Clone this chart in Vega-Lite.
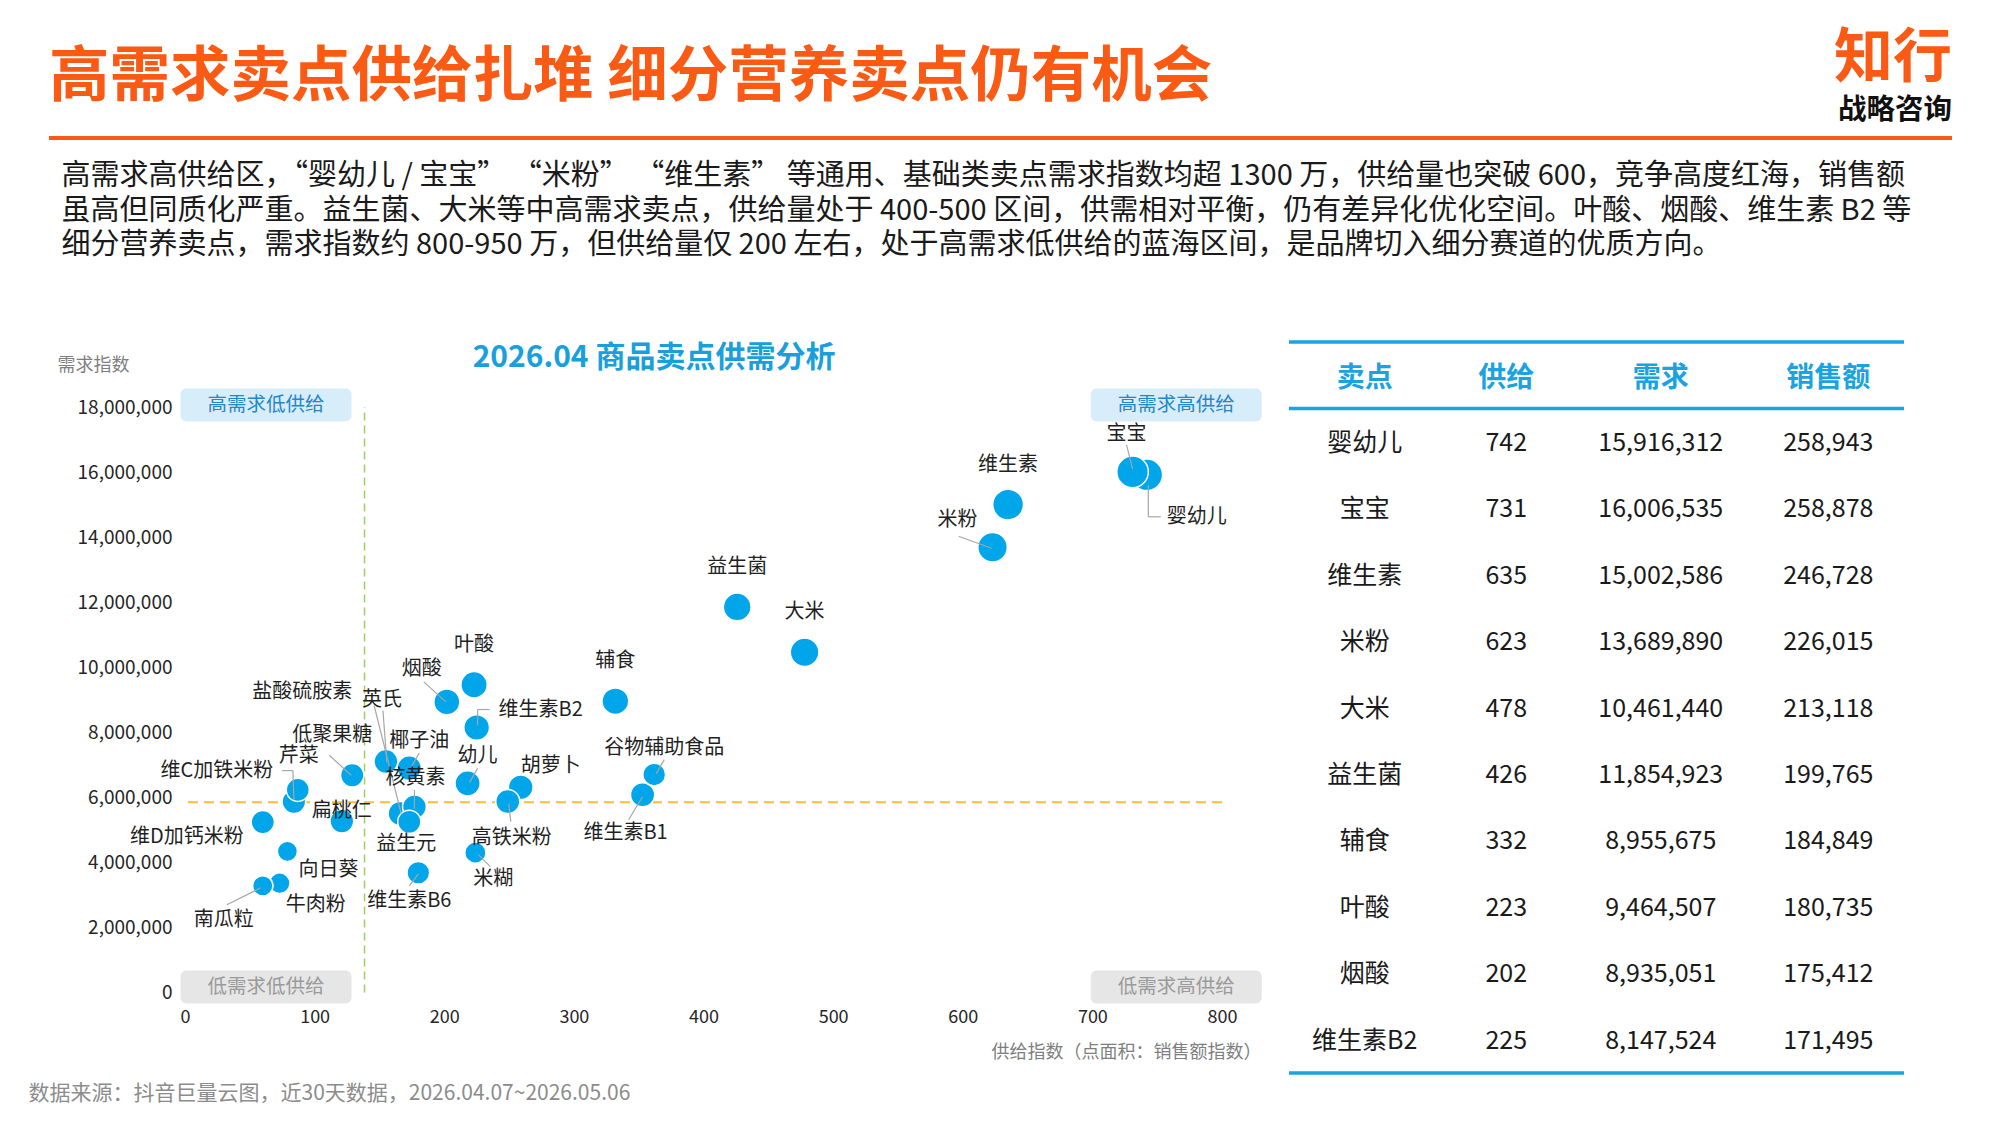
{
  "$schema": "https://vega.github.io/schema/vega-lite/v6.json",
  "background": "#FFFFFF",
  "padding": {"left": 28, "top": 23, "right": 10, "bottom": 14},
  "config": {"font": "Noto Sans CJK SC", "view": {"stroke": null}},
  "datasets": {
    "sp": [
      {"卖点": "婴幼儿", "供给": 742, "需求": 15916312, "销售额": 258943},
      {"卖点": "宝宝", "供给": 731, "需求": 16006535, "销售额": 258878},
      {"卖点": "维生素", "供给": 635, "需求": 15002586, "销售额": 246728},
      {"卖点": "米粉", "供给": 623, "需求": 13689890, "销售额": 226015},
      {"卖点": "大米", "供给": 478, "需求": 10461440, "销售额": 213118},
      {"卖点": "益生菌", "供给": 426, "需求": 11854923, "销售额": 199765},
      {"卖点": "辅食", "供给": 332, "需求": 8955675, "销售额": 184849},
      {"卖点": "叶酸", "供给": 223, "需求": 9464507, "销售额": 180735},
      {"卖点": "烟酸", "供给": 202, "需求": 8935051, "销售额": 175412},
      {"卖点": "维生素B2", "供给": 225, "需求": 8147524, "销售额": 171495},
      {"卖点": "幼儿", "供给": 218, "需求": 6430000, "销售额": 165000},
      {"卖点": "胡萝卜", "供给": 259, "需求": 6310000, "销售额": 158000},
      {"卖点": "椰子油", "供给": 173, "需求": 6900000, "销售额": 155000},
      {"卖点": "维生素B1", "供给": 353, "需求": 6080000, "销售额": 152000},
      {"卖点": "盐酸硫胺素", "供给": 166, "需求": 5500000, "销售额": 151000},
      {"卖点": "高铁米粉", "供给": 249, "需求": 5870000, "销售额": 150000},
      {"卖点": "英氏", "供给": 155, "需求": 7100000, "销售额": 149000},
      {"卖点": "核黄素", "供给": 177, "需求": 5710000, "销售额": 147000},
      {"卖点": "扁桃仁", "供给": 121, "需求": 5270000, "销售额": 146000},
      {"卖点": "维C加铁米粉", "供给": 84, "需求": 5870000, "销售额": 145000},
      {"卖点": "低聚果糖", "供给": 129, "需求": 6680000, "销售额": 141000},
      {"卖点": "维D加钙米粉", "供给": 60, "需求": 5240000, "销售额": 140000},
      {"卖点": "益生元", "供给": 173, "需求": 5250000, "销售额": 139000},
      {"卖点": "芹菜", "供给": 87, "需求": 6230000, "销售额": 138000},
      {"卖点": "谷物辅助食品", "供给": 362, "需求": 6700000, "销售额": 134000},
      {"卖点": "维生素B6", "供给": 180, "需求": 3680000, "销售额": 133000},
      {"卖点": "米糊", "供给": 224, "需求": 4300000, "销售额": 117000},
      {"卖点": "牛肉粉", "供给": 73, "需求": 3360000, "销售额": 112000},
      {"卖点": "南瓜粒", "供给": 60, "需求": 3280000, "销售额": 108000},
      {"卖点": "向日葵", "供给": 79, "需求": 4340000, "销售额": 105000}
    ],
    "quad": [
      {"象限": "高需求低供给", "供给": 62.5, "需求": 18060000},
      {"象限": "高需求高供给", "供给": 764.7, "需求": 18060000},
      {"象限": "低需求低供给", "供给": 62.5, "需求": 166000},
      {"象限": "低需求高供给", "供给": 764.7, "需求": 166000}
    ]
  },
  "bounds": "flush",
  "spacing": 204,
  "vconcat": [
    {
      "width": 1903,
      "height": 115,
      "title": {
        "text": [
          "高需求高供给区，“婴幼儿 / 宝宝” “米粉” “维生素” 等通用、基础类卖点需求指数均超 1300 万，供给量也突破 600，竞争高度红海，销售额",
          "虽高但同质化严重。益生菌、大米等中高需求卖点，供给量处于 400-500 区间，供需相对平衡，仍有差异化优化空间。叶酸、烟酸、维生素 B2 等",
          "细分营养卖点，需求指数约 800-950 万，但供给量仅 200 左右，处于高需求低供给的蓝海区间，是品牌切入细分赛道的优质方向。"
        ],
        "orient": "bottom",
        "anchor": "start",
        "frame": "group",
        "dx": 12.5,
        "offset": 22,
        "fontSize": 29,
        "fontWeight": "normal",
        "color": "#1A1A1A",
        "lineHeight": 34.5
      },
      "layer": [
        {
          "data": {"values": [{}]},
          "mark": {"type": "rule", "color": "#FA5A14", "strokeWidth": 4},
          "encoding": {"y": {"datum": 0, "type": "quantitative", "scale": {"domain": [0, 1]}, "axis": null}}
        },
        {
          "data": {"values": [{"文字": "高需求卖点供给扎堆 细分营养卖点仍有机会"}]},
          "mark": {"type": "text", "align": "left", "baseline": "middle", "fontSize": 60.5, "fontWeight": "bold", "color": "#FA5A14"},
          "encoding": {
            "x": {"datum": 0, "type": "quantitative", "scale": {"domain": [0, 1]}, "axis": null},
            "y": {"datum": 0.522, "type": "quantitative"},
            "text": {"field": "文字"}
          }
        },
        {
          "data": {"values": [{"文字": "知行"}]},
          "mark": {"type": "text", "align": "right", "baseline": "middle", "fontSize": 59, "fontWeight": "bold", "color": "#FA5A14"},
          "encoding": {
            "x": {"datum": 1, "type": "quantitative"},
            "y": {"datum": 0.69, "type": "quantitative"},
            "text": {"field": "文字"}
          }
        },
        {
          "data": {"values": [{"文字": "战略咨询"}]},
          "mark": {"type": "text", "align": "right", "baseline": "middle", "fontSize": 28.5, "fontWeight": "bold", "color": "#111111"},
          "encoding": {
            "x": {"datum": 1, "type": "quantitative"},
            "y": {"datum": 0.245, "type": "quantitative"},
            "text": {"field": "文字"}
          }
        }
      ]
    },
    {
      "bounds": "flush",
      "spacing": 67,
      "title": {
        "text": "数据来源：抖音巨量云图，近30天数据，2026.04.07~2026.05.06",
        "orient": "bottom",
        "anchor": "start",
        "frame": "group",
        "dx": -20.5,
        "offset": 8,
        "fontSize": 21,
        "fontWeight": "normal",
        "color": "#8C8C8C"
      },
      "hconcat": [
        {
          "width": 68.5,
          "height": 1,
          "data": {"values": []},
          "mark": "point",
          "encoding": {}
        },
        {
          "width": 1037,
          "height": 650.5,
          "title": {
            "text": "2026.04 商品卖点供需分析",
            "anchor": "middle",
            "frame": "group",
            "dx": -49.5,
            "offset": -46,
            "baseline": "middle",
            "fontSize": 30,
            "fontWeight": "bold",
            "color": "#18A0DC"
          },
          "layer": [
            {
              "data": {"values": [{}]},
              "mark": {"type": "rule", "color": "#F5BE3A", "strokeWidth": 2, "strokeDash": [10, 6]},
              "encoding": {"y": {"datum": 5850000, "type": "quantitative"}}
            },
            {
              "data": {"values": [{}]},
              "mark": {"type": "rule", "color": "#9BD35A", "strokeWidth": 1.5, "strokeDash": [8, 5]},
              "encoding": {
                "x": {"datum": 138.5, "type": "quantitative"},
                "y": {"datum": 0, "type": "quantitative"},
                "y2": {"datum": 18000000}
              }
            },
            {
              "data": {"name": "quad"},
              "mark": {
                "type": "point", "filled": true, "opacity": 1, "size": 29241, "strokeWidth": 0,
                "shape": "M-0.93,-0.193L0.93,-0.193A0.07,0.07,0,0,1,1,-0.123L1,0.123A0.07,0.07,0,0,1,0.93,0.193L-0.93,0.193A0.07,0.07,0,0,1,-1,0.123L-1,-0.123A0.07,0.07,0,0,1,-0.93,-0.193Z"
              },
              "encoding": {
                "x": {"field": "供给", "type": "quantitative"},
                "y": {"field": "需求", "type": "quantitative"},
                "color": {"condition": {"test": "datum['需求'] > 9000000", "value": "#D7EEFA"}, "value": "#E6E6E6"}
              }
            },
            {
              "data": {"name": "quad"},
              "mark": {"type": "text", "fontSize": 19.5},
              "encoding": {
                "x": {"field": "供给", "type": "quantitative"},
                "y": {"field": "需求", "type": "quantitative"},
                "text": {"field": "象限"},
                "color": {"condition": {"test": "datum['需求'] > 9000000", "value": "#2386C8"}, "value": "#9A9A9A"}
              }
            },
            {
              "data": {"name": "sp"},
              "mark": {"type": "circle", "filled": true, "opacity": 1, "fill": "#00A6E9", "stroke": "#FFFFFF", "strokeWidth": 1.5},
              "encoding": {
                "x": {
                  "field": "供给", "type": "quantitative",
                  "scale": {"domain": [0, 800], "nice": false, "zero": false},
                  "axis": {
                    "title": "供给指数（点面积：销售额指数）",
                    "titleX": 1076, "titleY": 59.5, "titleAlign": "right", "titleBaseline": "middle",
                    "titleFontSize": 18, "titleFontWeight": "normal", "titleColor": "#7F7F7F",
                    "values": [0, 100, 200, 300, 400, 500, 600, 700, 800],
                    "labelFontSize": 18, "labelColor": "#262626", "labelPadding": 16, "labelFlush": false,
                    "ticks": false, "domain": false, "grid": false
                  }
                },
                "y": {
                  "field": "需求", "type": "quantitative",
                  "scale": {"domain": [0, 20000000], "nice": false, "zero": false},
                  "axis": {
                    "title": "需求指数",
                    "titleAngle": 0, "titleX": -92, "titleY": 23, "titleAlign": "center", "titleBaseline": "middle",
                    "titleFontSize": 18, "titleFontWeight": "normal", "titleColor": "#7F7F7F",
                    "values": [0, 2000000, 4000000, 6000000, 8000000, 10000000, 12000000, 14000000, 16000000, 18000000],
                    "format": ",d",
                    "labelFontSize": 19, "labelColor": "#262626", "labelPadding": 13, "labelFlush": false,
                    "ticks": false, "domain": false, "grid": false
                  }
                },
                "size": {"field": "销售额", "type": "quantitative", "scale": {"domain": [0, 260000], "range": [0, 1000]}, "legend": null},
                "order": {"field": "销售额", "type": "quantitative", "sort": "descending"}
              }
            },
            {
              "data": {"name": "sp"},
              "transform": [{"filter": {"field": "卖点", "equal": "宝宝"}}],
              "mark": {"type": "rule", "color": "#A6A6A6", "strokeWidth": 1.2, "xOffset": -6, "yOffset": -27, "x2Offset": 0, "y2Offset": -3},
              "encoding": {"x": {"field": "供给", "type": "quantitative"}, "y": {"field": "需求", "type": "quantitative"}, "x2": {"field": "供给"}, "y2": {"field": "需求"}}
            },
            {
              "data": {"name": "sp"},
              "transform": [{"filter": {"field": "卖点", "oneOf": ["谷物辅助食品", "幼儿", "椰子油"]}}],
              "mark": {"type": "rule", "color": "#A6A6A6", "strokeWidth": 1.2, "xOffset": 10, "yOffset": -15, "x2Offset": 2, "y2Offset": -1},
              "encoding": {"x": {"field": "供给", "type": "quantitative"}, "y": {"field": "需求", "type": "quantitative"}, "x2": {"field": "供给"}, "y2": {"field": "需求"}}
            },
            {
              "data": {"name": "sp"},
              "transform": [{"filter": {"field": "卖点", "equal": "核黄素"}}],
              "mark": {"type": "rule", "color": "#A6A6A6", "strokeWidth": 1.2, "xOffset": 0, "yOffset": -17, "x2Offset": 0, "y2Offset": 2},
              "encoding": {"x": {"field": "供给", "type": "quantitative"}, "y": {"field": "需求", "type": "quantitative"}, "x2": {"field": "供给"}, "y2": {"field": "需求"}}
            },
            {
              "data": {"name": "sp"},
              "transform": [{"filter": {"field": "卖点", "oneOf": ["烟酸", "低聚果糖"]}}],
              "mark": {"type": "rule", "color": "#A6A6A6", "strokeWidth": 1.2, "xOffset": -23, "yOffset": -20, "x2Offset": -1, "y2Offset": 0},
              "encoding": {"x": {"field": "供给", "type": "quantitative"}, "y": {"field": "需求", "type": "quantitative"}, "x2": {"field": "供给"}, "y2": {"field": "需求"}}
            },
            {
              "data": {"name": "sp"},
              "transform": [{"filter": {"field": "卖点", "equal": "米粉"}}],
              "mark": {"type": "rule", "color": "#A6A6A6", "strokeWidth": 1.2, "xOffset": -34, "yOffset": -11, "x2Offset": -1, "y2Offset": 1},
              "encoding": {"x": {"field": "供给", "type": "quantitative"}, "y": {"field": "需求", "type": "quantitative"}, "x2": {"field": "供给"}, "y2": {"field": "需求"}}
            },
            {
              "data": {"name": "sp"},
              "transform": [{"filter": {"field": "卖点", "equal": "高铁米粉"}}],
              "mark": {"type": "rule", "color": "#A6A6A6", "strokeWidth": 1.2, "xOffset": 1, "yOffset": 2, "x2Offset": 3, "y2Offset": 20},
              "encoding": {"x": {"field": "供给", "type": "quantitative"}, "y": {"field": "需求", "type": "quantitative"}, "x2": {"field": "供给"}, "y2": {"field": "需求"}}
            },
            {
              "data": {"name": "sp"},
              "transform": [{"filter": {"field": "卖点", "equal": "维生素B6"}}],
              "mark": {"type": "rule", "color": "#A6A6A6", "strokeWidth": 1.2, "xOffset": 0, "yOffset": 1, "x2Offset": -9, "y2Offset": 13},
              "encoding": {"x": {"field": "供给", "type": "quantitative"}, "y": {"field": "需求", "type": "quantitative"}, "x2": {"field": "供给"}, "y2": {"field": "需求"}}
            },
            {
              "data": {"name": "sp"},
              "transform": [{"filter": {"field": "卖点", "equal": "维生素B1"}}],
              "mark": {"type": "rule", "color": "#A6A6A6", "strokeWidth": 1.2, "xOffset": 0, "yOffset": 2, "x2Offset": -14, "y2Offset": 25},
              "encoding": {"x": {"field": "供给", "type": "quantitative"}, "y": {"field": "需求", "type": "quantitative"}, "x2": {"field": "供给"}, "y2": {"field": "需求"}}
            },
            {
              "data": {"name": "sp"},
              "transform": [{"filter": {"field": "卖点", "equal": "米糊"}}],
              "mark": {"type": "rule", "color": "#A6A6A6", "strokeWidth": 1.2, "xOffset": 3, "yOffset": 2, "x2Offset": 15, "y2Offset": 14},
              "encoding": {"x": {"field": "供给", "type": "quantitative"}, "y": {"field": "需求", "type": "quantitative"}, "x2": {"field": "供给"}, "y2": {"field": "需求"}}
            },
            {
              "data": {"name": "sp"},
              "transform": [{"filter": {"field": "卖点", "equal": "英氏"}}],
              "mark": {"type": "rule", "color": "#A6A6A6", "strokeWidth": 1.2, "xOffset": -3, "yOffset": -51, "x2Offset": 1, "y2Offset": 1},
              "encoding": {"x": {"field": "供给", "type": "quantitative"}, "y": {"field": "需求", "type": "quantitative"}, "x2": {"field": "供给"}, "y2": {"field": "需求"}}
            },
            {
              "data": {"name": "sp"},
              "transform": [{"filter": {"field": "卖点", "equal": "盐酸硫胺素"}}],
              "mark": {"type": "rule", "color": "#A6A6A6", "strokeWidth": 1.2, "xOffset": -26, "yOffset": -108, "x2Offset": 1, "y2Offset": 0},
              "encoding": {"x": {"field": "供给", "type": "quantitative"}, "y": {"field": "需求", "type": "quantitative"}, "x2": {"field": "供给"}, "y2": {"field": "需求"}}
            },
            {
              "data": {"name": "sp"},
              "transform": [{"filter": {"field": "卖点", "equal": "南瓜粒"}}],
              "mark": {"type": "rule", "color": "#A6A6A6", "strokeWidth": 1.2, "xOffset": -36, "yOffset": 19, "x2Offset": -2, "y2Offset": 2},
              "encoding": {"x": {"field": "供给", "type": "quantitative"}, "y": {"field": "需求", "type": "quantitative"}, "x2": {"field": "供给"}, "y2": {"field": "需求"}}
            },
            {
              "data": {"name": "sp"},
              "transform": [{"filter": {"field": "卖点", "equal": "维C加铁米粉"}}],
              "mark": {"type": "rule", "color": "#A6A6A6", "strokeWidth": 1.2, "xOffset": -12, "yOffset": -31, "x2Offset": -1, "y2Offset": -31},
              "encoding": {"x": {"field": "供给", "type": "quantitative"}, "y": {"field": "需求", "type": "quantitative"}, "x2": {"field": "供给"}, "y2": {"field": "需求"}}
            },
            {
              "data": {"name": "sp"},
              "transform": [{"filter": {"field": "卖点", "equal": "维C加铁米粉"}}],
              "mark": {"type": "rule", "color": "#A6A6A6", "strokeWidth": 1.2, "xOffset": -1, "yOffset": -31, "x2Offset": 0, "y2Offset": -2},
              "encoding": {"x": {"field": "供给", "type": "quantitative"}, "y": {"field": "需求", "type": "quantitative"}, "x2": {"field": "供给"}, "y2": {"field": "需求"}}
            },
            {
              "data": {"name": "sp"},
              "transform": [{"filter": {"field": "卖点", "equal": "维生素B2"}}],
              "mark": {"type": "rule", "color": "#A6A6A6", "strokeWidth": 1.2, "xOffset": 1, "yOffset": -2, "x2Offset": 1, "y2Offset": -18},
              "encoding": {"x": {"field": "供给", "type": "quantitative"}, "y": {"field": "需求", "type": "quantitative"}, "x2": {"field": "供给"}, "y2": {"field": "需求"}}
            },
            {
              "data": {"name": "sp"},
              "transform": [{"filter": {"field": "卖点", "equal": "维生素B2"}}],
              "mark": {"type": "rule", "color": "#A6A6A6", "strokeWidth": 1.2, "xOffset": 1, "yOffset": -18, "x2Offset": 13, "y2Offset": -18},
              "encoding": {"x": {"field": "供给", "type": "quantitative"}, "y": {"field": "需求", "type": "quantitative"}, "x2": {"field": "供给"}, "y2": {"field": "需求"}}
            },
            {
              "data": {"name": "sp"},
              "transform": [{"filter": {"field": "卖点", "equal": "婴幼儿"}}],
              "mark": {"type": "rule", "color": "#A6A6A6", "strokeWidth": 1.2, "xOffset": 1.5, "yOffset": 10, "x2Offset": 1.5, "y2Offset": 42},
              "encoding": {"x": {"field": "供给", "type": "quantitative"}, "y": {"field": "需求", "type": "quantitative"}, "x2": {"field": "供给"}, "y2": {"field": "需求"}}
            },
            {
              "data": {"name": "sp"},
              "transform": [{"filter": {"field": "卖点", "equal": "婴幼儿"}}],
              "mark": {"type": "rule", "color": "#A6A6A6", "strokeWidth": 1.2, "xOffset": 1.5, "yOffset": 42, "x2Offset": 14, "y2Offset": 42},
              "encoding": {"x": {"field": "供给", "type": "quantitative"}, "y": {"field": "需求", "type": "quantitative"}, "x2": {"field": "供给"}, "y2": {"field": "需求"}}
            },
            {
              "data": {"name": "sp"},
              "transform": [{"filter": {"field": "卖点", "oneOf": ["维生素", "大米", "益生菌", "辅食", "叶酸"]}}],
              "mark": {"type": "text", "fontSize": 20, "color": "#1F1F1F", "dx": 0, "dy": -40},
              "encoding": {"x": {"field": "供给", "type": "quantitative"}, "y": {"field": "需求", "type": "quantitative"}, "text": {"field": "卖点"}}
            },
            {
              "data": {"name": "sp"},
              "transform": [{"filter": {"field": "卖点", "equal": "芹菜"}}],
              "mark": {"type": "text", "fontSize": 20, "color": "#1F1F1F", "dx": 1, "dy": -34},
              "encoding": {"x": {"field": "供给", "type": "quantitative"}, "y": {"field": "需求", "type": "quantitative"}, "text": {"field": "卖点"}}
            },
            {
              "data": {"name": "sp"},
              "transform": [{"filter": {"field": "卖点", "equal": "宝宝"}}],
              "mark": {"type": "text", "fontSize": 20, "color": "#1F1F1F", "dx": -6, "dy": -38},
              "encoding": {"x": {"field": "供给", "type": "quantitative"}, "y": {"field": "需求", "type": "quantitative"}, "text": {"field": "卖点"}}
            },
            {
              "data": {"name": "sp"},
              "transform": [{"filter": {"field": "卖点", "oneOf": ["谷物辅助食品", "幼儿", "椰子油"]}}],
              "mark": {"type": "text", "fontSize": 20, "color": "#1F1F1F", "dx": 10, "dy": -27},
              "encoding": {"x": {"field": "供给", "type": "quantitative"}, "y": {"field": "需求", "type": "quantitative"}, "text": {"field": "卖点"}}
            },
            {
              "data": {"name": "sp"},
              "transform": [{"filter": {"field": "卖点", "equal": "核黄素"}}],
              "mark": {"type": "text", "fontSize": 20, "color": "#1F1F1F", "dx": 1, "dy": -29},
              "encoding": {"x": {"field": "供给", "type": "quantitative"}, "y": {"field": "需求", "type": "quantitative"}, "text": {"field": "卖点"}}
            },
            {
              "data": {"name": "sp"},
              "transform": [{"filter": {"field": "卖点", "equal": "烟酸"}}],
              "mark": {"type": "text", "fontSize": 20, "color": "#1F1F1F", "dx": -25, "dy": -33},
              "encoding": {"x": {"field": "供给", "type": "quantitative"}, "y": {"field": "需求", "type": "quantitative"}, "text": {"field": "卖点"}}
            },
            {
              "data": {"name": "sp"},
              "transform": [{"filter": {"field": "卖点", "equal": "低聚果糖"}}],
              "mark": {"type": "text", "fontSize": 20, "color": "#1F1F1F", "dx": -20, "dy": -40},
              "encoding": {"x": {"field": "供给", "type": "quantitative"}, "y": {"field": "需求", "type": "quantitative"}, "text": {"field": "卖点"}}
            },
            {
              "data": {"name": "sp"},
              "transform": [{"filter": {"field": "卖点", "equal": "米粉"}}],
              "mark": {"type": "text", "fontSize": 20, "color": "#1F1F1F", "dx": -35, "dy": -27},
              "encoding": {"x": {"field": "供给", "type": "quantitative"}, "y": {"field": "需求", "type": "quantitative"}, "text": {"field": "卖点"}}
            },
            {
              "data": {"name": "sp"},
              "transform": [{"filter": {"field": "卖点", "equal": "高铁米粉"}}],
              "mark": {"type": "text", "fontSize": 20, "color": "#1F1F1F", "dx": 4, "dy": 36},
              "encoding": {"x": {"field": "供给", "type": "quantitative"}, "y": {"field": "需求", "type": "quantitative"}, "text": {"field": "卖点"}}
            },
            {
              "data": {"name": "sp"},
              "transform": [{"filter": {"field": "卖点", "equal": "维生素B6"}}],
              "mark": {"type": "text", "fontSize": 20, "color": "#1F1F1F", "dx": -9, "dy": 28},
              "encoding": {"x": {"field": "供给", "type": "quantitative"}, "y": {"field": "需求", "type": "quantitative"}, "text": {"field": "卖点"}}
            },
            {
              "data": {"name": "sp"},
              "transform": [{"filter": {"field": "卖点", "equal": "益生元"}}],
              "mark": {"type": "text", "fontSize": 20, "color": "#1F1F1F", "dx": -3, "dy": 22},
              "encoding": {"x": {"field": "供给", "type": "quantitative"}, "y": {"field": "需求", "type": "quantitative"}, "text": {"field": "卖点"}}
            },
            {
              "data": {"name": "sp"},
              "transform": [{"filter": {"field": "卖点", "equal": "维生素B1"}}],
              "mark": {"type": "text", "fontSize": 20, "color": "#1F1F1F", "dx": -17, "dy": 38},
              "encoding": {"x": {"field": "供给", "type": "quantitative"}, "y": {"field": "需求", "type": "quantitative"}, "text": {"field": "卖点"}}
            },
            {
              "data": {"name": "sp"},
              "transform": [{"filter": {"field": "卖点", "equal": "米糊"}}],
              "mark": {"type": "text", "fontSize": 20, "color": "#1F1F1F", "dx": 18, "dy": 26},
              "encoding": {"x": {"field": "供给", "type": "quantitative"}, "y": {"field": "需求", "type": "quantitative"}, "text": {"field": "卖点"}}
            },
            {
              "data": {"name": "sp"},
              "transform": [{"filter": {"field": "卖点", "equal": "向日葵"}}],
              "mark": {"type": "text", "fontSize": 20, "color": "#1F1F1F", "dx": 41, "dy": 19},
              "encoding": {"x": {"field": "供给", "type": "quantitative"}, "y": {"field": "需求", "type": "quantitative"}, "text": {"field": "卖点"}}
            },
            {
              "data": {"name": "sp"},
              "transform": [{"filter": {"field": "卖点", "equal": "牛肉粉"}}],
              "mark": {"type": "text", "fontSize": 20, "color": "#1F1F1F", "dx": 36, "dy": 22},
              "encoding": {"x": {"field": "供给", "type": "quantitative"}, "y": {"field": "需求", "type": "quantitative"}, "text": {"field": "卖点"}}
            },
            {
              "data": {"name": "sp"},
              "transform": [{"filter": {"field": "卖点", "equal": "胡萝卜"}}],
              "mark": {"type": "text", "fontSize": 20, "color": "#1F1F1F", "dx": 30, "dy": -21},
              "encoding": {"x": {"field": "供给", "type": "quantitative"}, "y": {"field": "需求", "type": "quantitative"}, "text": {"field": "卖点"}}
            },
            {
              "data": {"name": "sp"},
              "transform": [{"filter": {"field": "卖点", "equal": "扁桃仁"}}],
              "mark": {"type": "text", "fontSize": 20, "color": "#1F1F1F", "dx": 0, "dy": -10},
              "encoding": {"x": {"field": "供给", "type": "quantitative"}, "y": {"field": "需求", "type": "quantitative"}, "text": {"field": "卖点"}}
            },
            {
              "data": {"name": "sp"},
              "transform": [{"filter": {"field": "卖点", "equal": "英氏"}}],
              "mark": {"type": "text", "fontSize": 20, "color": "#1F1F1F", "dx": -4, "dy": -62},
              "encoding": {"x": {"field": "供给", "type": "quantitative"}, "y": {"field": "需求", "type": "quantitative"}, "text": {"field": "卖点"}}
            },
            {
              "data": {"name": "sp"},
              "transform": [{"filter": {"field": "卖点", "equal": "盐酸硫胺素"}}],
              "mark": {"type": "text", "fontSize": 20, "color": "#1F1F1F", "dx": -98, "dy": -122},
              "encoding": {"x": {"field": "供给", "type": "quantitative"}, "y": {"field": "需求", "type": "quantitative"}, "text": {"field": "卖点"}}
            },
            {
              "data": {"name": "sp"},
              "transform": [{"filter": {"field": "卖点", "equal": "南瓜粒"}}],
              "mark": {"type": "text", "fontSize": 20, "color": "#1F1F1F", "dx": -39, "dy": 34},
              "encoding": {"x": {"field": "供给", "type": "quantitative"}, "y": {"field": "需求", "type": "quantitative"}, "text": {"field": "卖点"}}
            },
            {
              "data": {"name": "sp"},
              "transform": [{"filter": {"field": "卖点", "equal": "维D加钙米粉"}}],
              "mark": {"type": "text", "fontSize": 20, "color": "#1F1F1F", "dx": -76, "dy": 15},
              "encoding": {"x": {"field": "供给", "type": "quantitative"}, "y": {"field": "需求", "type": "quantitative"}, "text": {"field": "卖点"}}
            },
            {
              "data": {"name": "sp"},
              "transform": [{"filter": {"field": "卖点", "equal": "维C加铁米粉"}}],
              "mark": {"type": "text", "fontSize": 20, "color": "#1F1F1F", "dx": -77, "dy": -31},
              "encoding": {"x": {"field": "供给", "type": "quantitative"}, "y": {"field": "需求", "type": "quantitative"}, "text": {"field": "卖点"}}
            },
            {
              "data": {"name": "sp"},
              "transform": [{"filter": {"field": "卖点", "equal": "维生素B2"}}],
              "mark": {"type": "text", "fontSize": 20, "color": "#1F1F1F", "dx": 64, "dy": -18},
              "encoding": {"x": {"field": "供给", "type": "quantitative"}, "y": {"field": "需求", "type": "quantitative"}, "text": {"field": "卖点"}}
            },
            {
              "data": {"name": "sp"},
              "transform": [{"filter": {"field": "卖点", "equal": "婴幼儿"}}],
              "mark": {"type": "text", "fontSize": 20, "color": "#1F1F1F", "dx": 50, "dy": 42},
              "encoding": {"x": {"field": "供给", "type": "quantitative"}, "y": {"field": "需求", "type": "quantitative"}, "text": {"field": "卖点"}}
            }
          ]
        },
        {
          "width": 615,
          "height": 731,
          "layer": [
            {
              "data": {"values": [{}]},
              "mark": {"type": "rule", "color": "#1AA3E0", "strokeWidth": 3.5},
              "encoding": {"y": {"datum": -0.5, "type": "quantitative", "scale": {"domain": [-0.5, 10.5], "reverse": true, "nice": false, "zero": false}, "axis": null}}
            },
            {
              "data": {"values": [{}]},
              "mark": {"type": "rule", "color": "#1AA3E0", "strokeWidth": 3.5},
              "encoding": {"y": {"datum": 0.5, "type": "quantitative"}}
            },
            {
              "data": {"values": [{}]},
              "mark": {"type": "rule", "color": "#1AA3E0", "strokeWidth": 3.5},
              "encoding": {"y": {"datum": 10.5, "type": "quantitative"}}
            },
            {
              "data": {"values": [{"列": "卖点"}, {"列": "供给"}, {"列": "需求"}, {"列": "销售额"}]},
              "transform": [{"filter": {"field": "列", "oneOf": ["卖点", "销售额"]}}],
              "mark": {"type": "text", "fontSize": 28, "fontWeight": "bold", "color": "#1AA3E0", "dy": 4},
              "encoding": {
                "x": {"field": "列", "type": "nominal", "scale": {"type": "point", "domain": ["卖点", "供给", "需求", "销售额"], "padding": 0.49}, "axis": null},
                "y": {"datum": 0, "type": "quantitative"},
                "text": {"field": "列"}
              }
            },
            {
              "data": {"values": [{"列": "卖点"}, {"列": "供给"}, {"列": "需求"}, {"列": "销售额"}]},
              "transform": [{"filter": {"field": "列", "oneOf": ["供给", "需求"]}}],
              "mark": {"type": "text", "fontSize": 28, "fontWeight": "bold", "color": "#1AA3E0", "dx": -13, "dy": 4},
              "encoding": {
                "x": {"field": "列", "type": "nominal"},
                "y": {"datum": 0, "type": "quantitative"},
                "text": {"field": "列"}
              }
            },
            {
              "data": {"name": "sp"},
              "transform": [
                {"window": [{"op": "row_number", "as": "名次"}], "sort": [{"field": "销售额", "order": "descending"}]},
                {"filter": "datum['名次'] <= 10"}
              ],
              "mark": {"type": "text", "fontSize": 25, "color": "#1A1A1A", "dy": 1},
              "encoding": {
                "x": {"datum": "卖点", "type": "nominal"},
                "y": {"field": "名次", "type": "quantitative"},
                "text": {"field": "卖点"}
              }
            },
            {
              "data": {"name": "sp"},
              "transform": [
                {"window": [{"op": "row_number", "as": "名次"}], "sort": [{"field": "销售额", "order": "descending"}]},
                {"filter": "datum['名次'] <= 10"}
              ],
              "mark": {"type": "text", "fontSize": 25, "color": "#1A1A1A", "dx": -13, "dy": 1},
              "encoding": {
                "x": {"datum": "供给", "type": "nominal"},
                "y": {"field": "名次", "type": "quantitative"},
                "text": {"field": "供给", "type": "quantitative", "format": "d"}
              }
            },
            {
              "data": {"name": "sp"},
              "transform": [
                {"window": [{"op": "row_number", "as": "名次"}], "sort": [{"field": "销售额", "order": "descending"}]},
                {"filter": "datum['名次'] <= 10"}
              ],
              "mark": {"type": "text", "fontSize": 25, "color": "#1A1A1A", "dx": -13, "dy": 1},
              "encoding": {
                "x": {"datum": "需求", "type": "nominal"},
                "y": {"field": "名次", "type": "quantitative"},
                "text": {"field": "需求", "type": "quantitative", "format": ",d"}
              }
            },
            {
              "data": {"name": "sp"},
              "transform": [
                {"window": [{"op": "row_number", "as": "名次"}], "sort": [{"field": "销售额", "order": "descending"}]},
                {"filter": "datum['名次'] <= 10"}
              ],
              "mark": {"type": "text", "fontSize": 25, "color": "#1A1A1A", "dy": 1},
              "encoding": {
                "x": {"datum": "销售额", "type": "nominal"},
                "y": {"field": "名次", "type": "quantitative"},
                "text": {"field": "销售额", "type": "quantitative", "format": ",d"}
              }
            }
          ]
        }
      ]
    }
  ]
}
